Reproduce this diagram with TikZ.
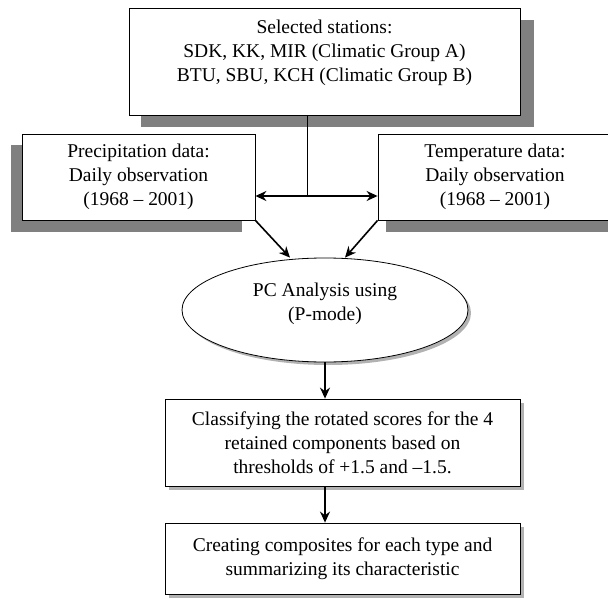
\documentclass[tikz,border=0pt]{standalone}
\usepackage{fontspec}
\setmainfont{Liberation Serif}
\usetikzlibrary{arrows.meta,shapes.geometric}
\definecolor{shd}{gray}{0.5}
\tikzset{
  box/.style={draw=black, line width=0.8pt, fill=white, align=center, inner sep=0pt,
    font=\fontsize{19.5}{24}\selectfont},
  txt/.style={align=center, inner sep=0pt, font=\fontsize{19.5}{24}\selectfont},
  arr/.style={line width=1.6pt, -{Stealth[length=11pt,width=10pt]}},
  darr/.style={line width=1.6pt, {Stealth[length=11pt,width=10pt]}-{Stealth[length=11pt,width=10pt]}},
}
\begin{document}
\begin{tikzpicture}[x=1pt,y=-1pt]
\useasboundingbox (0,0) rectangle (608,599);
% shadows
\fill[shd] (141,20) rectangle (534,127);
\fill[shd] (11,145) rectangle (242,232);
\fill[shd] (386,145) rectangle (615,232);
\fill[shd!60] (169,403) rectangle (524,490);
\fill[shd!60] (169,527) rectangle (524,598);
\fill[shd!60] (328,313) ellipse [x radius=143, y radius=52];
% boxes
\node[box, minimum width=391, minimum height=107] (top) at (324.5,61.5) {};
\node[txt] (toptext) at (324.5,53)
  {Selected stations:\\SDK, KK, MIR (Climatic Group A)\\BTU, SBU, KCH (Climatic Group B)};
\node[box, minimum width=233, minimum height=86] (prec) at (138.5,177)
  {Precipitation data:\\Daily observation\\(1968 -- 2001)};
\node[box, minimum width=234, minimum height=86] (temp) at (495,177)
  {Temperature data:\\Daily observation\\(1968 -- 2001)};
\node[box, ellipse, minimum width=286, minimum height=104] (pca) at (325,310) {};
\node[txt] (pcatext) at (325,304) {PC Analysis using\\(P-mode)};
\node[box, minimum width=355, minimum height=87] (cls) at (342.5,442.5)
  {Classifying the rotated scores for the 4\\retained components based on\\thresholds of +1.5 and --1.5.};
\node[box, minimum width=355, minimum height=71] (comp) at (342.5,558.5)
  {Creating composites for each type and\\summarizing its characteristic};
% connectors
\coordinate (mid) at (307,196);
\draw[line width=0.8pt] (top.south -| mid) -- (mid);
\draw[darr] (prec.east |- mid) -- (temp.west |- mid);
\draw[arr] (prec.south east) -- ([xshift=-35pt]pca.north);
\draw[arr] (temp.south west) -- ([xshift=20pt]pca.north);
\draw[arr] (pca.south) -- (pca.south |- cls.north);
\draw[arr] (cls.south -| pca.south) -- (comp.north -| pca.south);
\end{tikzpicture}
\end{document}
